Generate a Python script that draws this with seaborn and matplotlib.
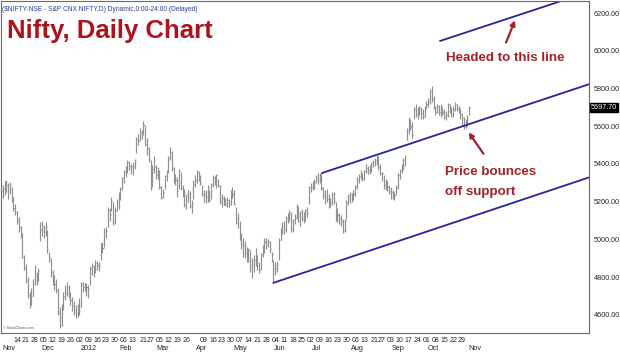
import numpy as np
import pandas as pd
import matplotlib
matplotlib.use("Agg")
import matplotlib.pyplot as plt
import matplotlib.transforms as mtransforms
import seaborn as sns

# Barres journalières, nov. 2011 -> 2 nov. 2012
high = [
    5300, 5290, 5310, 5315, 5300, 5305, 5280, 5225, 5190, 5150, 5120, 5070, 5035, 4920, 4870, 4800, 4720, 4740, 4790, 4865, 4830, 4850,
    5090, 5100, 5075, 5090, 5050, 4935, 4900, 4838, 4810, 4790, 4740, 4642, 4660, 4720, 4760, 4775, 4760, 4720, 4695, 4675, 4650, 4660,
    4690, 4775, 4775, 4770, 4770, 4760, 4860, 4875, 4865, 4890, 4885, 4880, 4980, 4985, 5060, 5065, 5170, 5165, 5225, 5200, 5170, 5215,
    5250, 5280, 5330, 5370, 5390, 5420, 5415, 5400, 5410, 5425, 5545, 5560, 5590, 5580, 5630, 5600, 5540, 5490, 5420, 5395, 5440,
    5395, 5385, 5370, 5285, 5265, 5340, 5370, 5440, 5490, 5470, 5385, 5345, 5330, 5375, 5360, 5290, 5270, 5240, 5260, 5255, 5210, 5315,
    5340, 5370, 5365, 5340, 5290, 5260, 5260, 5290, 5260, 5300, 5340, 5335, 5345, 5320, 5290, 5240, 5230, 5220, 5225, 5215, 5260,
    5280, 5260, 5170, 5140, 5100, 5035, 5010, 4990, 4960, 4955, 4940, 4900, 4920, 4955, 4920, 4880, 4930, 4970, 5010, 5005, 5000, 4990, 4935,
    4890, 4880, 4885, 5010, 5060, 5090, 5100, 5125, 5140, 5155, 5145, 5110, 5135, 5190, 5175, 5150, 5160, 5145, 5160, 5170, 5285,
    5300, 5310, 5320, 5340, 5350, 5350, 5345, 5280, 5260, 5270, 5240, 5220, 5250, 5250, 5200, 5165, 5140, 5130, 5110, 5110, 5210, 5240,
    5250, 5245, 5260, 5290, 5330, 5345, 5370, 5350, 5370, 5400, 5390, 5395, 5410, 5420, 5430, 5450, 5440, 5400, 5360, 5340, 5320, 5310, 5290,
    5280, 5260, 5250, 5290, 5350, 5375, 5400, 5430, 5445, 5590, 5650, 5640, 5620, 5700, 5720, 5700, 5705, 5700, 5690, 5710,
    5735, 5750, 5800, 5815, 5760, 5710, 5720, 5715, 5720, 5700, 5690, 5680, 5725, 5720, 5700, 5710, 5730, 5720, 5710, 5690, 5670, 5650, 5640,
    5660, 5710,
]
low = [
    5210, 5220, 5235, 5250, 5215, 5240, 5200, 5150, 5130, 5080, 5040, 5010, 4900, 4840, 4770, 4690, 4637, 4650, 4700, 4760, 4760, 4780,
    4990, 5020, 5010, 5020, 4930, 4880, 4800, 4760, 4730, 4716, 4600, 4531, 4540, 4626, 4680, 4700, 4690, 4650, 4620, 4600, 4583, 4590,
    4600, 4640, 4720, 4725, 4700, 4690, 4760, 4810, 4800, 4820, 4840, 4835, 4890, 4930, 4960, 5010, 5065, 5100, 5150, 5075, 5080, 5150,
    5160, 5210, 5260, 5300, 5330, 5350, 5370, 5345, 5340, 5375, 5460, 5500, 5520, 5530, 5560, 5495, 5450, 5410, 5260, 5280, 5350,
    5320, 5320, 5270, 5215, 5220, 5270, 5310, 5350, 5420, 5365, 5300, 5290, 5225, 5270, 5260, 5225, 5170, 5160, 5200, 5165, 5140, 5215,
    5280, 5300, 5310, 5290, 5230, 5200, 5195, 5200, 5200, 5215, 5280, 5290, 5275, 5280, 5190, 5170, 5185, 5175, 5170, 5170, 5180,
    5220, 5180, 5080, 5060, 4995, 4950, 4905, 4900, 4880, 4880, 4830, 4795, 4830, 4860, 4840, 4820, 4840, 4905, 4930, 4950, 4960, 4930, 4880,
    4770, 4810, 4830, 4890, 4995, 5030, 5030, 5040, 5085, 5100, 5040, 5040, 5080, 5110, 5090, 5070, 5100, 5085, 5100, 5120, 5190,
    5250, 5260, 5270, 5300, 5295, 5300, 5260, 5215, 5190, 5200, 5165, 5170, 5180, 5190, 5100, 5090, 5080, 5070, 5032, 5040, 5110, 5180,
    5195, 5200, 5210, 5230, 5270, 5300, 5320, 5310, 5315, 5350, 5345, 5345, 5360, 5385, 5390, 5395, 5370, 5340, 5310, 5270, 5260, 5255, 5240,
    5215, 5215, 5210, 5240, 5270, 5320, 5350, 5370, 5390, 5525, 5560, 5580, 5540, 5640, 5650, 5640, 5660, 5640, 5640, 5650,
    5690, 5700, 5720, 5730, 5690, 5660, 5670, 5660, 5650, 5660, 5640, 5635, 5650, 5670, 5650, 5650, 5680, 5680, 5670, 5640, 5600, 5585, 5590,
    5600, 5660,
]
close = [
    5258, 5265, 5284, 5290, 5260, 5289, 5221, 5168, 5148, 5100, 5068, 5030, 4906, 4850, 4778, 4706, 4650, 4700, 4756, 4805, 4780, 4832,
    5050, 5062, 5040, 5065, 4944, 4900, 4830, 4790, 4765, 4730, 4612, 4545, 4640, 4700, 4714, 4750, 4715, 4680, 4646, 4630, 4610, 4624,
    4636, 4765, 4750, 4754, 4746, 4742, 4849, 4861, 4831, 4873, 4867, 4866, 4967, 4955, 5049, 5046, 5158, 5128, 5205, 5087, 5158, 5199,
    5235, 5269, 5325, 5361, 5368, 5412, 5390, 5382, 5390, 5416, 5532, 5521, 5564, 5555, 5607, 5505, 5483, 5429, 5281, 5375, 5385,
    5339, 5359, 5280, 5222, 5246, 5334, 5359, 5430, 5463, 5380, 5318, 5317, 5258, 5364, 5274, 5243, 5184, 5228, 5243, 5178, 5194, 5296,
    5317, 5358, 5322, 5300, 5243, 5234, 5226, 5276, 5207, 5289, 5333, 5300, 5340, 5290, 5200, 5222, 5202, 5189, 5209, 5190, 5248,
    5239, 5188, 5087, 5115, 4999, 4974, 4966, 4928, 4907, 4942, 4858, 4870, 4891, 4906, 4860, 4837, 4921, 4948, 4986, 4985, 4990, 4951, 4924,
    4841, 4848, 4863, 4997, 5049, 5069, 5054, 5115, 5121, 5139, 5054, 5103, 5120, 5165, 5100, 5146, 5114, 5120, 5149, 5141, 5278,
    5278, 5287, 5302, 5327, 5316, 5345, 5275, 5235, 5227, 5216, 5197, 5192, 5242, 5205, 5117, 5128, 5109, 5099, 5043, 5099, 5200, 5229,
    5240, 5227, 5240, 5282, 5322, 5338, 5347, 5320, 5362, 5380, 5366, 5376, 5400, 5413, 5421, 5412, 5386, 5350, 5350, 5287, 5315, 5276, 5259,
    5253, 5225, 5238, 5274, 5342, 5363, 5390, 5420, 5435, 5577, 5610, 5601, 5554, 5692, 5663, 5673, 5691, 5669, 5650, 5703,
    5718, 5731, 5787, 5747, 5704, 5677, 5708, 5675, 5705, 5676, 5648, 5660, 5718, 5684, 5665, 5691, 5717, 5691, 5697, 5664, 5646, 5598, 5620,
    5645, 5698,
]

# Canal de tendance : (jour de bourse, niveau) aux extrémités de chaque droite
channel_names = ["support", "mid", "top"]
channel_days = [[153, 331], [180.3, 331], [246.6, 331]]
channel_values = [[4770, 5331], [5352, 5825], [6052, 6315]]

# Axe des x
week_ticks = ["2011-11-14", "2011-11-21", "2011-11-28", "2011-12-05", "2011-12-12", "2011-12-19", "2011-12-26",
              "2012-01-02", "2012-01-09", "2012-01-16", "2012-01-23", "2012-01-30", "2012-02-06", "2012-02-13",
              "2012-02-21", "2012-02-27", "2012-03-05", "2012-03-12", "2012-03-19", "2012-03-26", "2012-04-09",
              "2012-04-16", "2012-04-23", "2012-04-30", "2012-05-07", "2012-05-14", "2012-05-21", "2012-05-28",
              "2012-06-04", "2012-06-11", "2012-06-18", "2012-06-25", "2012-07-02", "2012-07-09", "2012-07-16",
              "2012-07-23", "2012-07-30", "2012-08-06", "2012-08-13", "2012-08-21", "2012-08-27", "2012-09-03",
              "2012-09-10", "2012-09-17", "2012-09-24", "2012-10-01", "2012-10-08", "2012-10-15", "2012-10-22",
              "2012-10-29"]
month_labels = ["Nov", "Dec", "2012", "Feb", "Mar", "Apr", "May", "Jun", "Jul", "Aug", "Sep", "Oct", "Nov"]
y_ticks = [4600, 4800, 5000, 5200, 5400, 5600, 5800, 6000, 6200]
last_price = 5697.70

dates = pd.bdate_range("2011-11-01", "2012-11-02")
assert len(dates) == len(high) == len(low) == len(close)
df = pd.DataFrame({"date": dates, "high": high, "low": low, "close": close})
df["day"] = np.arange(len(df))

lines = pd.DataFrame({
    "line": np.repeat(channel_names, 2),
    "day": np.ravel(channel_days),
    "value": np.ravel(channel_values),
})

sns.set_style("white")
plt.rcParams["font.family"] = ["Liberation Sans", "DejaVu Sans"]
narrow = ["Liberation Sans Narrow", "Liberation Sans"]

fig = plt.figure(figsize=(6.2, 3.55), dpi=100)
ax = fig.add_axes([0.5 / 620, 22 / 355, 588.5 / 620, 332 / 355])

# barres HLC
ax.vlines(df["day"], df["low"], df["high"], color="#909090", lw=0.85)
ax.hlines(df["close"], df["day"], df["day"] + 0.6, color="#909090", lw=0.8)

# droites du canal
sns.lineplot(data=lines, x="day", y="value", units="line", estimator=None,
             color="#24249c", lw=1.3, ax=ax, legend=False)

ax.set_xlim(-0.3, 330.3)
ax.set_ylim(4504, 6264)
ax.set_xlabel("")
ax.set_ylabel("")

# axe des prix à droite
ax.yaxis.tick_right()
ax.set_yticks(y_ticks)
ax.set_yticklabels([f"{v:.2f}" for v in y_ticks], fontsize=5.2, family=narrow)
ax.tick_params(axis="y", length=0, pad=3.5)

# graduations hebdomadaires + mois
pos = [dates.get_loc(pd.Timestamp(d)) for d in week_ticks]
ax.set_xticks(pos)
ax.set_xticklabels([pd.Timestamp(d).strftime("%d") for d in week_ticks], fontsize=5.0, family=narrow)
ax.tick_params(axis="x", length=0, pad=3)
month_start = df.groupby(df["date"].dt.to_period("M"))["day"].min().values
trans = mtransforms.blended_transform_factory(ax.transData, ax.transAxes)
for d, lab in zip(month_start, month_labels):
    ax.text(d + 0.5, -0.047, lab, transform=trans, fontsize=5.2, family=narrow, ha="left", va="center")

for s in ax.spines.values():
    s.set_color("#6a6a6a")
    s.set_linewidth(0.8)

# étiquette du dernier cours
ytrans = mtransforms.blended_transform_factory(ax.transAxes, ax.transData)
ax.text(1.003, last_price, f"{last_price:.2f}", transform=ytrans, fontsize=5.2, family=narrow,
        color="white", va="center", ha="left",
        bbox=dict(boxstyle="square,pad=0.15", fc="black", ec="black"))

# textes
ax.text(0.002, 0.985, "($NIFTY-NSE - S&P CNX NIFTY,D) Dynamic,0:00-24:00 (Delayed)", transform=ax.transAxes,
        fontsize=4.8, family=narrow, color="#2b3d9c", va="top", ha="left")
fig.text(7 / 620, 1 - 19 / 355, "Nifty, Daily Chart", fontsize=18.5, fontweight="bold",
         color="#b0121c", va="top", ha="left")
ax.text(0.005, 0.012, "\u00a9 StockCharts.com", transform=ax.transAxes, fontsize=2.6, color="#555555")

red = "#a3222a"
ax.text(250, 5960, "Headed to this line", fontsize=9.6, fontweight="bold", color=red, va="center", ha="left")
ax.annotate("", xy=(289.3, 6175), xytext=(283.1, 6030),
            arrowprops=dict(arrowstyle="-|>", color=red, lw=1.6, mutation_scale=7))
ax.text(249.4, 5357, "Price bounces", fontsize=9.6, fontweight="bold", color=red, va="center", ha="left")
ax.text(249.4, 5251, "off support", fontsize=9.6, fontweight="bold", color=red, va="center", ha="left")
ax.annotate("", xy=(261.8, 5580), xytext=(271.9, 5442),
            arrowprops=dict(arrowstyle="-|>", color=red, lw=1.6, mutation_scale=7))

fig.savefig("out.png", dpi=100)
